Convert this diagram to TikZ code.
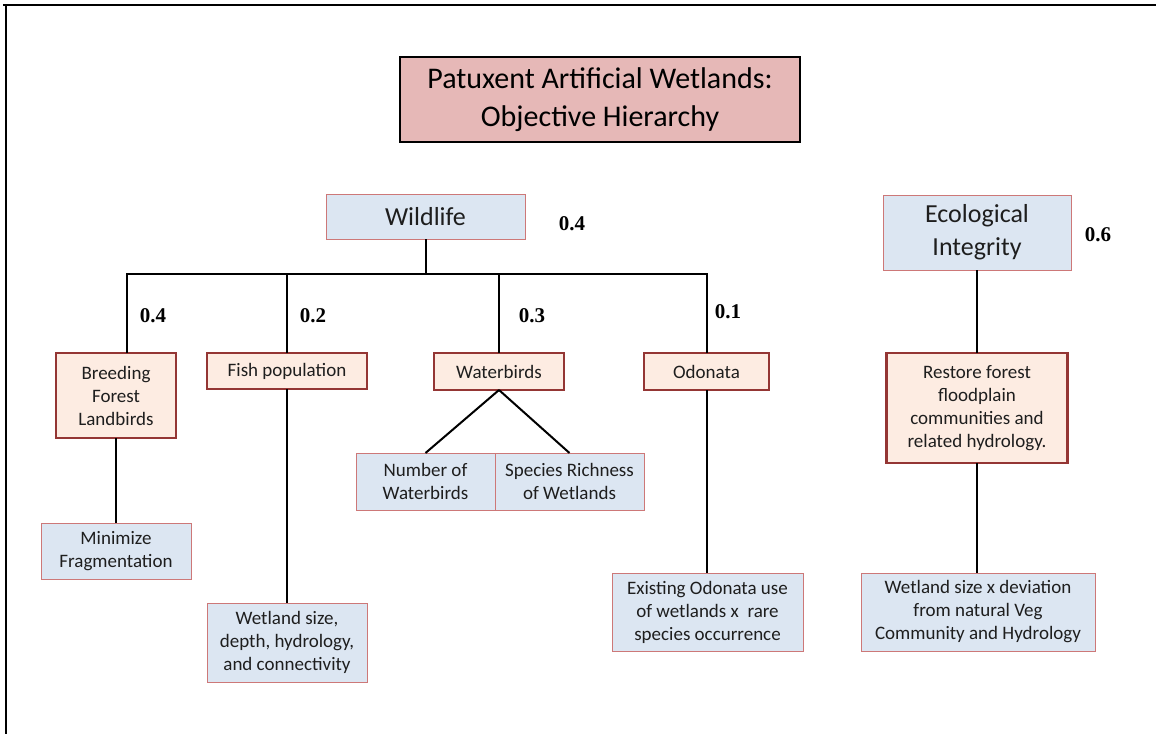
\documentclass[tikz,border=0pt]{standalone}
\usepackage{fontspec}
\setmainfont{Carlito}
\newfontfamily\numfont{Liberation Serif}
\begin{document}
\begin{tikzpicture}[x=1pt,y=-1pt,
  every node/.style={inner sep=0pt, outer sep=0pt},
  titlebox/.style={draw=black, line width=2.2pt, fill={rgb,255:red,230;green,184;blue,183}, align=center, font=\fontsize{30}{38}\selectfont},
  bluebox/.style={draw={rgb,255:red,205;green,120;blue,120}, line width=0.9pt, fill={rgb,255:red,220;green,230;blue,242}, align=center, text={rgb,255:red,30;green,30;blue,30}},
  peachbox/.style={draw={rgb,255:red,148;green,54;blue,52}, line width=2.2pt, fill={rgb,255:red,253;green,236;blue,226}, align=center, text={rgb,255:red,30;green,30;blue,30}, font=\fontsize{19}{23}\selectfont},
  big/.style={font=\fontsize{26}{33}\selectfont},
  small/.style={font=\fontsize{19}{23}\selectfont},
  weight/.style={font=\numfont\bfseries\fontsize{21}{24}\selectfont},
  link/.style={draw=black, line width=2pt}]
\useasboundingbox (0,0) rectangle (1156,734);
% frame
\draw[line width=2pt] (3,5) -- (1156,5);
\draw[line width=2pt] (6,5) -- (6,734);
% nodes
\node[titlebox, minimum width=400, minimum height=85] (title) at (600,99.5) {Patuxent Artificial Wetlands:\\Objective Hierarchy};
\node[bluebox, big, minimum width=199, minimum height=45] (wild) at (425.5,216.5) {Wildlife};
\node[bluebox, big, minimum width=188, minimum height=75] (eco) at (977,232.5) {Ecological\\Integrity};
\node[peachbox, minimum width=120, minimum height=85] (breed) at (116,395.5) {Breeding\\Forest\\Landbirds};
\node[peachbox, minimum width=160, minimum height=36] (fish) at (287,371) {Fish population};
\node[peachbox, minimum width=130, minimum height=37] (water) at (499,371.5) {Waterbirds};
\node[peachbox, minimum width=125, minimum height=37] (odon) at (706.5,371.5) {Odonata};
\node[peachbox, minimum width=181, minimum height=110] (restore) at (977,408) {Restore forest\\floodplain\\communities and\\related hydrology.};
\node[bluebox, small, minimum width=139, minimum height=57] (num) at (425.5,481.5) {Number of\\Waterbirds};
\node[bluebox, small, minimum width=149, minimum height=57] (spec) at (569.5,481.5) {Species Richness\\of Wetlands};
\node[bluebox, small, minimum width=150, minimum height=56] (minfrag) at (116,551) {Minimize\\Fragmentation};
\node[bluebox, small, minimum width=160, minimum height=79] (wetsize) at (287,642.5) {Wetland size,\\depth, hydrology,\\and connectivity};
\node[bluebox, small, minimum width=191, minimum height=78] (exist) at (707.5,612) {Existing Odonata use\\of wetlands x\ \ rare\\species occurrence};
\node[bluebox, small, minimum width=234, minimum height=78] (wetdev) at (978,612) {Wetland size x deviation\\from natural Veg\\Community and Hydrology};
% weights
\node[weight] (w0) at (572,224) {0.4};
\node[weight] (w6) at (1098,235) {0.6};
\node[weight] (w1) at (153,316) {0.4};
\node[weight] (w2) at (313,316) {0.2};
\node[weight] (w3) at (532,316) {0.3};
\node[weight] (w4) at (728,312) {0.1};
% connectors
\coordinate (barL) at (127,274);
\coordinate (barR) at (706.5,274);
\draw[link] (wild.south) -- (wild.south |- barL);
\draw[link, line cap=rect] (barL) -- (barR);
\draw[link] (barL) -- (barL |- breed.north);
\draw[link] (fish.north |- barL) -- (fish.north);
\draw[link] (water.north |- barL) -- (water.north);
\draw[link] (barR) -- (odon.north);
\draw[link] (water.south) -- (num.north);
\draw[link] (water.south) -- (spec.north);
\draw[link] (breed.south) -- (minfrag.north);
\draw[link] (fish.south) -- (wetsize.north);
\draw[link] (odon.south) -- (odon.south |- exist.north);
\draw[link] (eco.south) -- (restore.north);
\draw[link] (restore.south) -- (restore.south |- wetdev.north);
\end{tikzpicture}
\end{document}
